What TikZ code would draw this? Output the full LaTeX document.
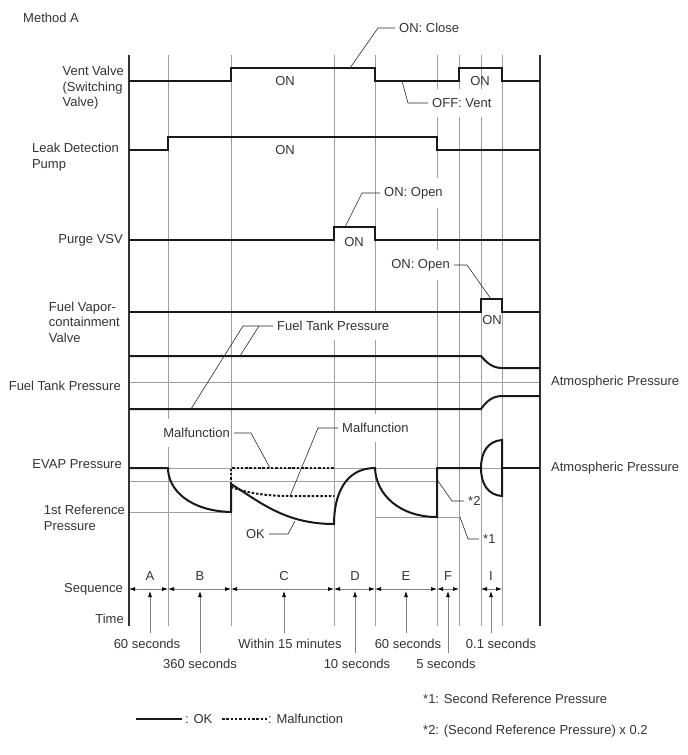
\documentclass[tikz,border=0pt]{standalone}
\usepackage{fontspec}
\setmainfont{Liberation Sans}
\usepackage{tikz}
\usetikzlibrary{arrows.meta}
\usetikzlibrary{positioning}
\tikzstyle{lbl} = [font=\fontsize{13}{15.5}\selectfont, text=black!80, inner sep=1pt]
\tikzstyle{note} = [lbl, inner xsep=4pt]
\tikzstyle{tag} = [note, fill=white, inner ysep=9pt]
\tikzstyle{timelbl} = [lbl, inner ysep=6pt]
\tikzstyle{trace} = [line width=2pt, black!90]
\tikzstyle{malf} = [trace, dash pattern=on 2.5pt off 1.8pt]
\tikzstyle{gridline} = [line width=0.8pt, gray!75]
\tikzstyle{refline} = [line width=0.8pt, gray!75]
\tikzstyle{frame} = [line width=1.7pt, black!80]
\tikzstyle{leader} = [line width=0.6pt, black!85]
\tikzstyle{seqline} = [line width=0.7pt, gray, {Latex[length=6pt,width=4pt,color=black]}-{Latex[length=6pt,width=4pt,color=black]}]
\tikzstyle{timearrow} = [line width=0.7pt, gray, -{Latex[length=6pt,width=4pt,color=black]}]

\begin{document}
\begin{tikzpicture}[x=1pt, y=-1pt]
\useasboundingbox (0,0) rectangle (688,755);

\foreach \x in {168,231,334,375,437,459,481,502}
  \draw[gridline] (\x,55) -- (\x,626);
\draw[refline] (129,382) -- (540,382);
\draw[refline] (129,468) -- (540,468);
\draw[refline] (129,481) -- (437,481);
\draw[refline] (129,512) -- (231,512);
\draw[refline] (375,517) -- (460,517);

\node (title) [lbl, anchor=west] at (22,18) {Method A};
\node (vent) [lbl, align=left, anchor=east] at (125,88) {Vent Valve\\(Switching\\Valve)};
\node (leak) [lbl, align=left, anchor=east] at (120,157) {Leak Detection\\Pump};
\node (purge) [lbl, anchor=east] at (124,240) {Purge VSV};
\node (fvv) [lbl, align=left, anchor=east] at (121,322) {Fuel Vapor-\\containment\\Valve};
\node (ftank) [lbl, anchor=east] at (122,386) {Fuel Tank Pressure};
\node (evap) [lbl, anchor=east] at (123,464) {EVAP Pressure};
\node (ref1) [lbl, align=left, anchor=east] at (126,518) {1st Reference\\Pressure};
\node (seq) [lbl, anchor=east] at (124,589) {Sequence};
\node (time) [lbl, anchor=east] at (125,619) {Time};

\node (onclose) [note, anchor=west] at (395,28) {ON: Close};
\node (offvent) [tag, anchor=west] at (428,103) {OFF: Vent};
\node (purgeopen) [tag, anchor=west] at (380,193) {ON: Open};
\node (fvopen) [tag, anchor=east] at (454,265) {ON: Open};
\node (ftp) [tag, anchor=west] at (273,326) {Fuel Tank Pressure};
\node (malfL) [tag, inner xsep=1pt, anchor=east] at (231,433) {Malfunction};
\node (malfR) [tag, anchor=west] at (338,428) {Malfunction};
\node (okl) [note, anchor=east] at (269,534) {OK};
\node (star2) [note, anchor=west] at (464,501) {*2};
\node (star1) [note, anchor=west] at (479,539) {*1};

\node (on1) [lbl] at (285,81) {ON};
\node (on2) [lbl] at (480,81) {ON};
\node (on3) [lbl] at (285,150) {ON};
\node (on4) [lbl] at (354,242) {ON};
\node (on5) [lbl] at (492,320) {ON};
\node (atm1) [lbl, anchor=west] at (550,382) {Atmospheric Pressure};
\node (atm2) [lbl, anchor=west] at (550,468) {Atmospheric Pressure};

\draw[frame] (129,55) -- (129,626);
\draw[frame] (540,55) -- (540,626);

\draw[trace] (129,81) -- (231,81) -- (231,68) -- (375,68) -- (375,81) -- (459,81) -- (459,68) -- (502,68) -- (502,81) -- (540,81);
\draw[trace] (129,150) -- (168,150) -- (168,137) -- (437,137) -- (437,150) -- (540,150);
\draw[trace] (129,240) -- (334,240) -- (334,227) -- (375,227) -- (375,240) -- (540,240);
\draw[trace] (129,312) -- (481,312) -- (481,299) -- (502,299) -- (502,312) -- (540,312);
\draw[trace] (129,356) -- (481,356) .. controls (486,362) and (492,368) .. (502,368) -- (540,368);
\draw[trace] (129,409) -- (481,409) .. controls (486,402) and (492,396) .. (502,396) -- (540,396);
\draw[trace] (129,468) -- (168,468) .. controls (168,490) and (190,511) .. (231,512) -- (231,484)
  .. controls (260,502) and (285,524) .. (334,524) .. controls (334,495) and (345,468) .. (375,468)
  .. controls (376,495) and (400,517) .. (437,517) -- (437,468) -- (481,468)
  .. controls (481,452) and (488,441) .. (502,440) -- (502,496) .. controls (488,495) and (481,484) .. (481,468);
\draw[trace] (502,468) -- (540,468);
\draw[malf] (231,484) -- (231,468) -- (334,468);
\draw[malf] (231,487) .. controls (250,494) and (270,496) .. (290,496) -- (334,496);

\coordinate (ventclose) at (350,68);
\coordinate (ventoff) at (402,81);
\coordinate (purgeon) at (345,227);
\coordinate (fvon) at (491,299);
\coordinate (ftpup) at (240,356);
\coordinate (ftplow) at (191,409);
\coordinate (malfup) at (270,468);
\coordinate (malflow) at (290,496);
\coordinate (okpt) at (295,521);
\coordinate (p2) at (438,481);
\coordinate (p1) at (460,517);

\draw[leader] (onclose.west) -- ++(-17,0) -- (ventclose);
\draw[leader] (offvent.west) -- ++(-20,0) -- (ventoff);
\draw[leader] (purgeopen.west) -- ++(-18,0) -- (purgeon);
\draw[leader] (fvopen.east) -- ++(13,0) -- (fvon);
\draw[leader] (ftp.west) -- ++(-30,0) -- (ftplow);
\draw[leader] ([xshift=-14pt]ftp.west) -- (ftpup);
\draw[leader] ([xshift=3pt]malfL.east) -- ++(17,0) -- (malfup);
\draw[leader] (malfR.west) -- ++(-20,0) -- (malflow);
\draw[leader] (okl.east) -- ++(19,0) -- (okpt);
\draw[leader] (star2.west) -- ++(-12,0) -- (p2);
\draw[leader] (star1.west) -- ++(-11,0) -- (p1);

\foreach \a/\b in {129/168,168/231,231/334,334/375,375/437,437/459,481/502}
  \draw[seqline] (\a,589) -- (\b,589);
\node (sA) [lbl] at (150,576) {A};
\node (sB) [lbl] at (200,576) {B};
\node (sC) [lbl] at (284,576) {C};
\node (sD) [lbl] at (355,576) {D};
\node (sE) [lbl] at (406,576) {E};
\node (sF) [lbl] at (448,576) {F};
\node (sI) [lbl] at (491,576) {I};

\node (tA) [timelbl] at (147,644) {60 seconds};
\node (tB) [timelbl] at (200,664) {360 seconds};
\node (tC) [timelbl] at (290,644) {Within 15 minutes};
\node (tD) [timelbl] at (357,664) {10 seconds};
\node (tE) [timelbl] at (408,644) {60 seconds};
\node (tF) [timelbl] at (446,664) {5 seconds};
\node (tI) [timelbl] at (501,644) {0.1 seconds};
\foreach \s/\t in {sA/tA,sB/tB,sC/tC,sD/tD,sE/tE,sF/tF,sI/tI}
  \draw[timearrow] (\t.north -| \s) -- (\s |- 0,591);

\draw[trace] (136,719) -- (182,719);
\node (lgok) [lbl, anchor=west] at (184,719) {: OK};
\draw[malf] (222,719) -- (267,719);
\node (lgmalf) [lbl, anchor=west] at (267,719) {: Malfunction};
\node (fn1) [lbl, anchor=west] at (422,699) {*1: Second Reference Pressure};
\node (fn2) [lbl, anchor=west] at (422,731) {*2: (Second Reference Pressure) x 0.2};
\end{tikzpicture}
\end{document}
